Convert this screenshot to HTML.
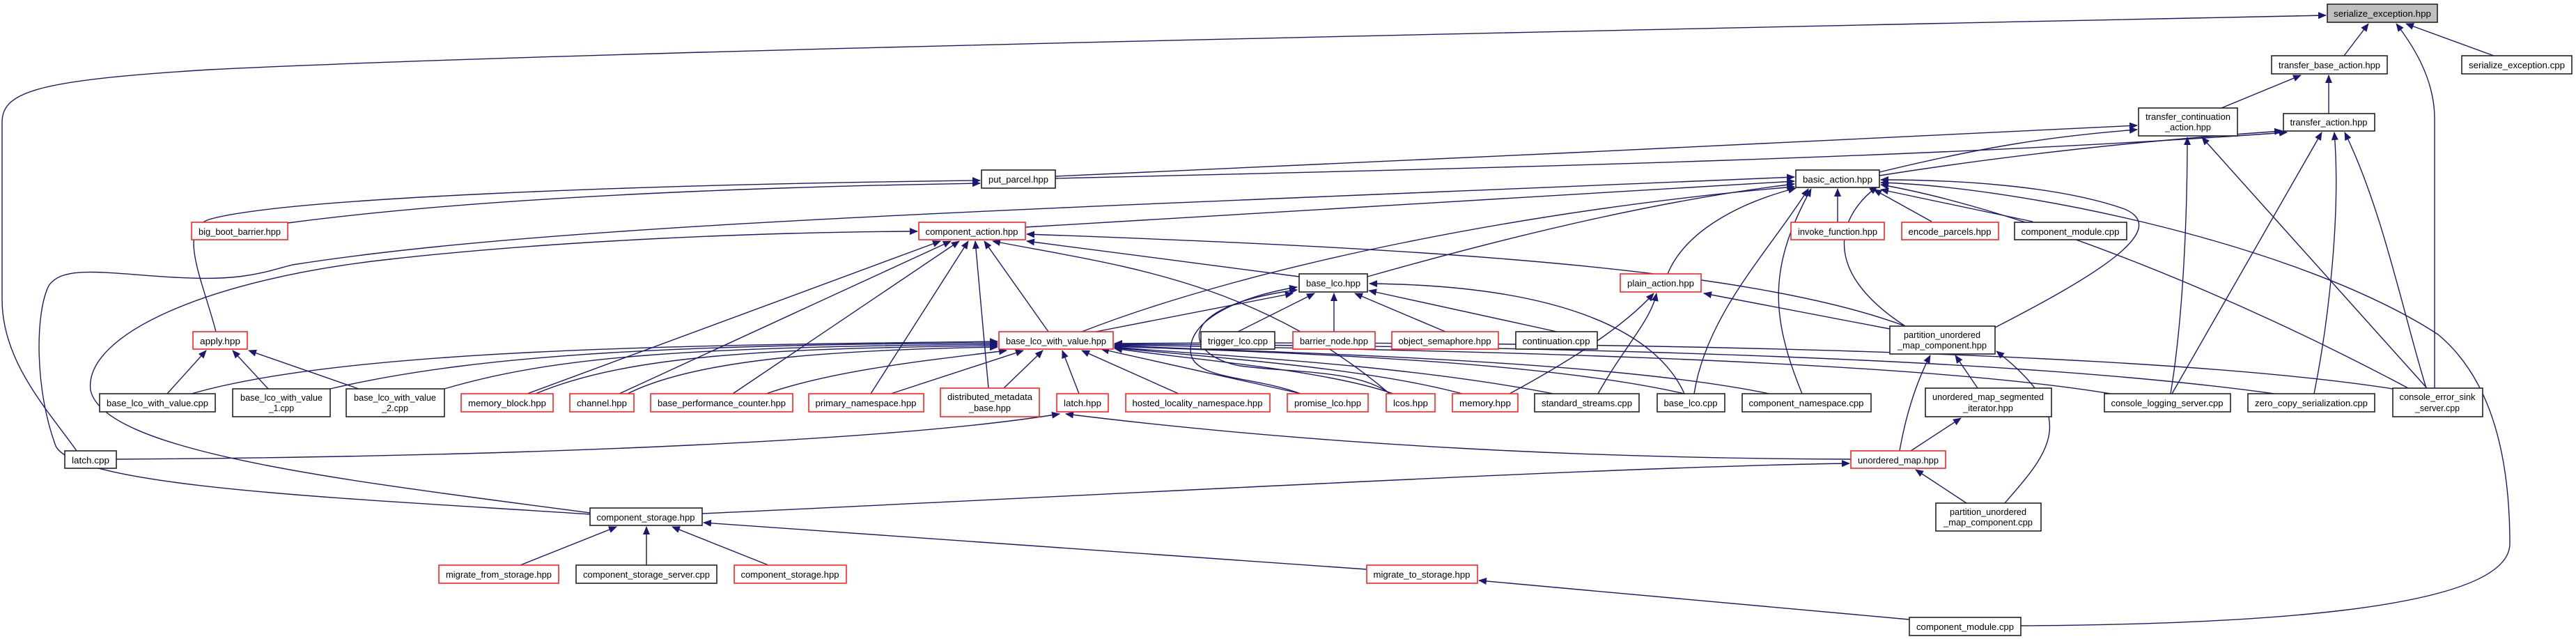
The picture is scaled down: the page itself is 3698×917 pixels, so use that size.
<!DOCTYPE html>
<html><head><meta charset="utf-8"><style>
html,body{margin:0;padding:0;background:#fff;}
svg{display:block;}
text{font-family:"Liberation Sans",sans-serif;font-size:13px;fill:#000;}
.e{fill:none;stroke:#191970;stroke-width:1.4;marker-end:url(#a);}
.b rect{fill:#fff;stroke:#222;stroke-width:1.6;}
.r rect{fill:#fff;stroke:#f22;stroke-width:1.6;}
</style></head><body>
<svg width="3698" height="917" viewBox="0 0 3698 917" xmlns="http://www.w3.org/2000/svg">
<defs><marker id="a" markerWidth="12" markerHeight="10" refX="11" refY="5" orient="auto" markerUnits="userSpaceOnUse"><path d="M0,0 L12,5 L0,10 z" fill="#191970"/></marker></defs>

<!-- edges -->
<path class="e" d="M3365,80 L3400,34"/>
<path class="e" d="M3580,80 L3454,34"/>
<path class="e" d="M3495,557 L3495,170 C3495,110 3460,60 3440,34"/>
<path class="e" d="M110,647 C70,590 3,520 3,430 L3,175 C3,130 60,115 300,100 C700,80 1500,60 3339,22"/>
<path class="e" d="M3189,155 L3303,108"/>
<path class="e" d="M3343,163 L3343,108"/>
<path class="e" d="M2698,247 C2850,210 2950,195 3068,186"/>
<path class="e" d="M2698,252 C2900,220 3100,200 3276,188"/>
<path class="e" d="M1515,253 C2000,230 2600,205 3068,180"/>
<path class="e" d="M1515,256 C2200,240 2800,225 3283,190"/>
<path class="e" d="M310,476 C290,400 255,330 300,315 C400,285 900,265 1407,259"/>
<path class="e" d="M413,320 C700,282 1100,268 1407,263"/>
<path class="e" d="M847,738 C500,715 110,700 80,640 C50,560 50,450 70,410 C90,380 150,392 250,398 C350,404 380,390 420,380 C800,320 1500,300 2576,254"/>
<path class="e" d="M847,736 C500,690 150,650 130,560 C120,480 300,400 560,372 C800,345 1100,333 1317,332"/>
<path class="e" d="M1472,326 C1900,300 2300,275 2576,260"/>
<path class="e" d="M1963,397 C2200,330 2400,285 2576,264"/>
<path class="e" d="M1553,476 C1800,380 2200,300 2576,268"/>
<path class="e" d="M2394,393 C2420,330 2500,290 2578,270"/>
<path class="e" d="M2638,319 L2638,271"/>
<path class="e" d="M2773,318 L2690,272"/>
<path class="e" d="M2918,318 L2700,272"/>
<path class="e" d="M2864,470 C3000,400 3120,330 3050,300 C2950,265 2800,258 2700,258"/>
<path class="e" d="M2901,898 C3200,896 3603,880 3603,780 C3603,620 3560,530 3500,480 C3300,350 2900,268 2700,262"/>
<path class="e" d="M3457,557 C3200,420 2900,300 2700,265"/>
<path class="e" d="M2735,468 C2600,380 2650,300 2695,268"/>
<path class="e" d="M2587,565 C2540,450 2540,380 2600,271"/>
<path class="e" d="M2432,565 C2450,450 2540,360 2596,271"/>
<path class="e" d="M3116,565 C3135,450 3140,300 3140,197"/>
<path class="e" d="M3118,565 L3333,190"/>
<path class="e" d="M3322,565 C3345,450 3360,300 3351,190"/>
<path class="e" d="M3484,557 L3161,197"/>
<path class="e" d="M3483,557 C3450,450 3420,300 3366,190"/>
<path class="e" d="M2735,468 C2500,380 2000,355 1474,336"/>
<path class="e" d="M2713,472 L2446,421"/>
<!-- into component_action -->
<path class="e" d="M757,565 L1350,346"/>
<path class="e" d="M889,565 L1365,346"/>
<path class="e" d="M1052,565 L1377,346"/>
<path class="e" d="M1250,565 L1390,346"/>
<path class="e" d="M1419,557 L1400,346"/>
<path class="e" d="M1505,476 L1413,346"/>
<path class="e" d="M1995,565 C1800,400 1600,380 1425,346"/>
<path class="e" d="M1865,397 L1474,346"/>
<!-- into base_lco_with_value -->
<path class="e" d="M275,565 C500,500 1000,495 1432,490"/>
<path class="e" d="M474,558 C700,505 1000,495 1432,492"/>
<path class="e" d="M638,558 C800,510 1000,498 1432,494"/>
<path class="e" d="M769,565 C900,510 1100,500 1432,496"/>
<path class="e" d="M901,565 C1000,515 1200,502 1432,498"/>
<path class="e" d="M1100,565 C1200,530 1350,515 1445,503"/>
<path class="e" d="M1279,565 L1469,503"/>
<path class="e" d="M1441,557 L1497,503"/>
<path class="e" d="M1549,565 L1525,503"/>
<path class="e" d="M1692,565 L1553,503"/>
<path class="e" d="M1868,565 L1581,501"/>
<path class="e" d="M2000,565 C1900,530 1700,515 1600,500"/>
<path class="e" d="M2099,565 C1950,525 1700,510 1600,499"/>
<path class="e" d="M2230,565 C2000,520 1700,508 1600,498"/>
<path class="e" d="M2418,565 C2200,515 1800,505 1600,497"/>
<path class="e" d="M2540,565 C2300,515 1800,505 1600,496"/>
<path class="e" d="M3030,565 C2700,510 1900,500 1600,495"/>
<path class="e" d="M3265,565 C2800,500 1900,495 1600,494"/>
<path class="e" d="M3435,558 C3000,490 1900,490 1600,493"/>
<!-- into base_lco -->
<path class="e" d="M1573,476 L1856,421"/>
<path class="e" d="M1777,476 L1887,421"/>
<path class="e" d="M1915,476 L1915,421"/>
<path class="e" d="M2075,476 L1945,421"/>
<path class="e" d="M2235,476 L1965,417"/>
<path class="e" d="M1867,565 C1800,540 1720,545 1710,510 C1700,460 1780,425 1862,412"/>
<path class="e" d="M1995,565 C1950,530 1850,535 1780,525 C1700,510 1680,440 1862,416"/>
<path class="e" d="M2418,565 C2380,480 2250,410 1966,407"/>
<!-- plain_action -->
<path class="e" d="M2167,565 C2250,520 2330,470 2374,421"/>
<path class="e" d="M2294,565 C2330,500 2370,460 2378,421"/>
<!-- apply -->
<path class="e" d="M240,565 L296,503"/>
<path class="e" d="M385,558 L334,503"/>
<path class="e" d="M515,558 L357,503"/>
<!-- unordered map cluster -->
<path class="e" d="M2839,557 L2807,510"/>
<path class="e" d="M2727,647 C2735,600 2750,550 2771,510"/>
<path class="e" d="M2878,722 C2940,650 2990,600 2866,504"/>
<path class="e" d="M2743,647 L2815,600"/>
<path class="e" d="M2823,722 L2750,674"/>
<path class="e" d="M1008,737 C1600,710 2300,670 2655,665"/>
<path class="e" d="M167,659 C800,655 1300,630 1521,594"/>
<path class="e" d="M2657,659 C2300,658 1900,640 1530,594"/>
<!-- component_storage -->
<path class="e" d="M747,811 L885,756"/>
<path class="e" d="M928,811 L928,756"/>
<path class="e" d="M1103,811 L965,756"/>
<path class="e" d="M1962,817 L1010,750"/>
<path class="e" d="M2741,889 L2123,833"/>

<!-- nodes -->
<g class="b"><rect x="3341" y="6" width="158" height="26" style="fill:#bfbfbf"/><text x="3420" y="24" text-anchor="middle" textLength="140" lengthAdjust="spacingAndGlyphs">serialize_exception.hpp</text></g>
<g class="b"><rect x="3261" y="80" width="166" height="26"/><text x="3344" y="98" text-anchor="middle" textLength="146" lengthAdjust="spacingAndGlyphs">transfer_base_action.hpp</text></g>
<g class="b"><rect x="3534" y="80" width="158" height="26"/><text x="3613" y="98" text-anchor="middle" textLength="138" lengthAdjust="spacingAndGlyphs">serialize_exception.cpp</text></g>
<g class="b"><rect x="3070" y="155" width="142" height="40"/><text x="3141" y="172" text-anchor="middle" textLength="122" lengthAdjust="spacingAndGlyphs">transfer_continuation</text><text x="3141" y="187" text-anchor="middle" textLength="66" lengthAdjust="spacingAndGlyphs">_action.hpp</text></g>
<g class="b"><rect x="3278" y="163" width="131" height="25"/><text x="3343" y="180" text-anchor="middle" textLength="111" lengthAdjust="spacingAndGlyphs">transfer_action.hpp</text></g>
<g class="b"><rect x="1409" y="244" width="106" height="26"/><text x="1462" y="262" text-anchor="middle" textLength="86" lengthAdjust="spacingAndGlyphs">put_parcel.hpp</text></g>
<g class="b"><rect x="2578" y="244" width="120" height="25"/><text x="2638" y="262" text-anchor="middle" textLength="100" lengthAdjust="spacingAndGlyphs">basic_action.hpp</text></g>
<g class="r"><rect x="275" y="319" width="138" height="25"/><text x="344" y="337" text-anchor="middle" textLength="118" lengthAdjust="spacingAndGlyphs">big_boot_barrier.hpp</text></g>
<g class="r"><rect x="1319" y="319" width="153" height="25"/><text x="1395" y="337" text-anchor="middle" textLength="133" lengthAdjust="spacingAndGlyphs">component_action.hpp</text></g>
<g class="r"><rect x="2571" y="319" width="134" height="25"/><text x="2638" y="337" text-anchor="middle" textLength="114" lengthAdjust="spacingAndGlyphs">invoke_function.hpp</text></g>
<g class="r"><rect x="2730" y="319" width="139" height="25"/><text x="2799" y="337" text-anchor="middle" textLength="119" lengthAdjust="spacingAndGlyphs">encode_parcels.hpp</text></g>
<g class="b"><rect x="2892" y="319" width="161" height="25"/><text x="2972" y="337" text-anchor="middle" textLength="141" lengthAdjust="spacingAndGlyphs">component_module.cpp</text></g>
<g class="b"><rect x="1865" y="393" width="98" height="26"/><text x="1914" y="411" text-anchor="middle" textLength="78" lengthAdjust="spacingAndGlyphs">base_lco.hpp</text></g>
<g class="r"><rect x="2326" y="393" width="116" height="26"/><text x="2384" y="411" text-anchor="middle" textLength="96" lengthAdjust="spacingAndGlyphs">plain_action.hpp</text></g>
<g class="r"><rect x="277" y="476" width="78" height="25"/><text x="316" y="494" text-anchor="middle" textLength="58" lengthAdjust="spacingAndGlyphs">apply.hpp</text></g>
<g class="r"><rect x="1434" y="476" width="164" height="25"/><text x="1516" y="494" text-anchor="middle" textLength="144" lengthAdjust="spacingAndGlyphs">base_lco_with_value.hpp</text></g>
<g class="b"><rect x="1724" y="476" width="106" height="25"/><text x="1777" y="494" text-anchor="middle" textLength="86" lengthAdjust="spacingAndGlyphs">trigger_lco.cpp</text></g>
<g class="r"><rect x="1856" y="476" width="118" height="25"/><text x="1915" y="494" text-anchor="middle" textLength="98" lengthAdjust="spacingAndGlyphs">barrier_node.hpp</text></g>
<g class="r"><rect x="1998" y="476" width="153" height="25"/><text x="2074" y="494" text-anchor="middle" textLength="133" lengthAdjust="spacingAndGlyphs">object_semaphore.hpp</text></g>
<g class="b"><rect x="2176" y="476" width="117" height="25"/><text x="2234" y="494" text-anchor="middle" textLength="97" lengthAdjust="spacingAndGlyphs">continuation.cpp</text></g>
<g class="b"><rect x="2713" y="468" width="151" height="40"/><text x="2788" y="485" text-anchor="middle" textLength="110" lengthAdjust="spacingAndGlyphs">partition_unordered</text><text x="2788" y="500" text-anchor="middle" textLength="128" lengthAdjust="spacingAndGlyphs">_map_component.hpp</text></g>

<g class="b"><rect x="143" y="565" width="166" height="26"/><text x="226" y="583" text-anchor="middle" textLength="146" lengthAdjust="spacingAndGlyphs">base_lco_with_value.cpp</text></g>
<g class="b"><rect x="334" y="558" width="140" height="40"/><text x="404" y="575" text-anchor="middle" textLength="118" lengthAdjust="spacingAndGlyphs">base_lco_with_value</text><text x="404" y="590" text-anchor="middle" textLength="36" lengthAdjust="spacingAndGlyphs">_1.cpp</text></g>
<g class="b"><rect x="497" y="558" width="141" height="40"/><text x="567" y="575" text-anchor="middle" textLength="118" lengthAdjust="spacingAndGlyphs">base_lco_with_value</text><text x="567" y="590" text-anchor="middle" textLength="38" lengthAdjust="spacingAndGlyphs">_2.cpp</text></g>
<g class="r"><rect x="662" y="565" width="132" height="26"/><text x="728" y="583" text-anchor="middle" textLength="112" lengthAdjust="spacingAndGlyphs">memory_block.hpp</text></g>
<g class="r"><rect x="818" y="565" width="92" height="26"/><text x="864" y="583" text-anchor="middle" textLength="72" lengthAdjust="spacingAndGlyphs">channel.hpp</text></g>
<g class="r"><rect x="934" y="565" width="204" height="26"/><text x="1036" y="583" text-anchor="middle" textLength="184" lengthAdjust="spacingAndGlyphs">base_performance_counter.hpp</text></g>
<g class="r"><rect x="1161" y="565" width="165" height="26"/><text x="1243" y="583" text-anchor="middle" textLength="145" lengthAdjust="spacingAndGlyphs">primary_namespace.hpp</text></g>
<g class="r"><rect x="1350" y="557" width="142" height="41"/><text x="1421" y="574" text-anchor="middle" textLength="122" lengthAdjust="spacingAndGlyphs">distributed_metadata</text><text x="1421" y="590" text-anchor="middle" textLength="60" lengthAdjust="spacingAndGlyphs">_base.hpp</text></g>
<g class="r"><rect x="1517" y="565" width="74" height="26"/><text x="1554" y="583" text-anchor="middle" textLength="54" lengthAdjust="spacingAndGlyphs">latch.hpp</text></g>
<g class="r"><rect x="1616" y="565" width="207" height="26"/><text x="1719" y="583" text-anchor="middle" textLength="187" lengthAdjust="spacingAndGlyphs">hosted_locality_namespace.hpp</text></g>
<g class="r"><rect x="1848" y="565" width="116" height="26"/><text x="1906" y="583" text-anchor="middle" textLength="96" lengthAdjust="spacingAndGlyphs">promise_lco.hpp</text></g>
<g class="r"><rect x="1990" y="565" width="70" height="26"/><text x="2025" y="583" text-anchor="middle" textLength="50" lengthAdjust="spacingAndGlyphs">lcos.hpp</text></g>
<g class="r"><rect x="2085" y="565" width="94" height="26"/><text x="2132" y="583" text-anchor="middle" textLength="74" lengthAdjust="spacingAndGlyphs">memory.hpp</text></g>
<g class="b"><rect x="2203" y="565" width="150" height="26"/><text x="2278" y="583" text-anchor="middle" textLength="130" lengthAdjust="spacingAndGlyphs">standard_streams.cpp</text></g>
<g class="b"><rect x="2379" y="565" width="97" height="26"/><text x="2427" y="583" text-anchor="middle" textLength="77" lengthAdjust="spacingAndGlyphs">base_lco.cpp</text></g>
<g class="b"><rect x="2501" y="565" width="185" height="26"/><text x="2593" y="583" text-anchor="middle" textLength="165" lengthAdjust="spacingAndGlyphs">component_namespace.cpp</text></g>
<g class="b"><rect x="2764" y="557" width="181" height="41"/><text x="2854" y="574" text-anchor="middle" textLength="160" lengthAdjust="spacingAndGlyphs">unordered_map_segmented</text><text x="2854" y="590" text-anchor="middle" textLength="72" lengthAdjust="spacingAndGlyphs">_iterator.hpp</text></g>
<g class="b"><rect x="3021" y="565" width="181" height="26"/><text x="3111" y="583" text-anchor="middle" textLength="161" lengthAdjust="spacingAndGlyphs">console_logging_server.cpp</text></g>
<g class="b"><rect x="3227" y="565" width="182" height="26"/><text x="3318" y="583" text-anchor="middle" textLength="162" lengthAdjust="spacingAndGlyphs">zero_copy_serialization.cpp</text></g>
<g class="b"><rect x="3435" y="557" width="129" height="41"/><text x="3499" y="574" text-anchor="middle" textLength="109" lengthAdjust="spacingAndGlyphs">console_error_sink</text><text x="3499" y="590" text-anchor="middle" textLength="64" lengthAdjust="spacingAndGlyphs">_server.cpp</text></g>
<g class="b"><rect x="93" y="647" width="74" height="25"/><text x="130" y="665" text-anchor="middle" textLength="54" lengthAdjust="spacingAndGlyphs">latch.cpp</text></g>
<g class="r"><rect x="2657" y="647" width="136" height="25"/><text x="2725" y="665" text-anchor="middle" textLength="116" lengthAdjust="spacingAndGlyphs">unordered_map.hpp</text></g>
<g class="b"><rect x="847" y="729" width="161" height="25"/><text x="927" y="747" text-anchor="middle" textLength="141" lengthAdjust="spacingAndGlyphs">component_storage.hpp</text></g>
<g class="b"><rect x="2779" y="722" width="151" height="40"/><text x="2854" y="739" text-anchor="middle" textLength="110" lengthAdjust="spacingAndGlyphs">partition_unordered</text><text x="2854" y="754" text-anchor="middle" textLength="128" lengthAdjust="spacingAndGlyphs">_map_component.cpp</text></g>
<g class="r"><rect x="630" y="811" width="172" height="26"/><text x="716" y="829" text-anchor="middle" textLength="152" lengthAdjust="spacingAndGlyphs">migrate_from_storage.hpp</text></g>
<g class="b"><rect x="827" y="811" width="202" height="26"/><text x="928" y="829" text-anchor="middle" textLength="182" lengthAdjust="spacingAndGlyphs">component_storage_server.cpp</text></g>
<g class="r"><rect x="1054" y="811" width="161" height="26"/><text x="1134" y="829" text-anchor="middle" textLength="141" lengthAdjust="spacingAndGlyphs">component_storage.hpp</text></g>
<g class="r"><rect x="1962" y="811" width="159" height="26"/><text x="2041" y="829" text-anchor="middle" textLength="139" lengthAdjust="spacingAndGlyphs">migrate_to_storage.hpp</text></g>
<g class="b"><rect x="2741" y="886" width="160" height="26"/><text x="2821" y="904" text-anchor="middle" textLength="140" lengthAdjust="spacingAndGlyphs">component_module.cpp</text></g>
</svg>
</body></html>
